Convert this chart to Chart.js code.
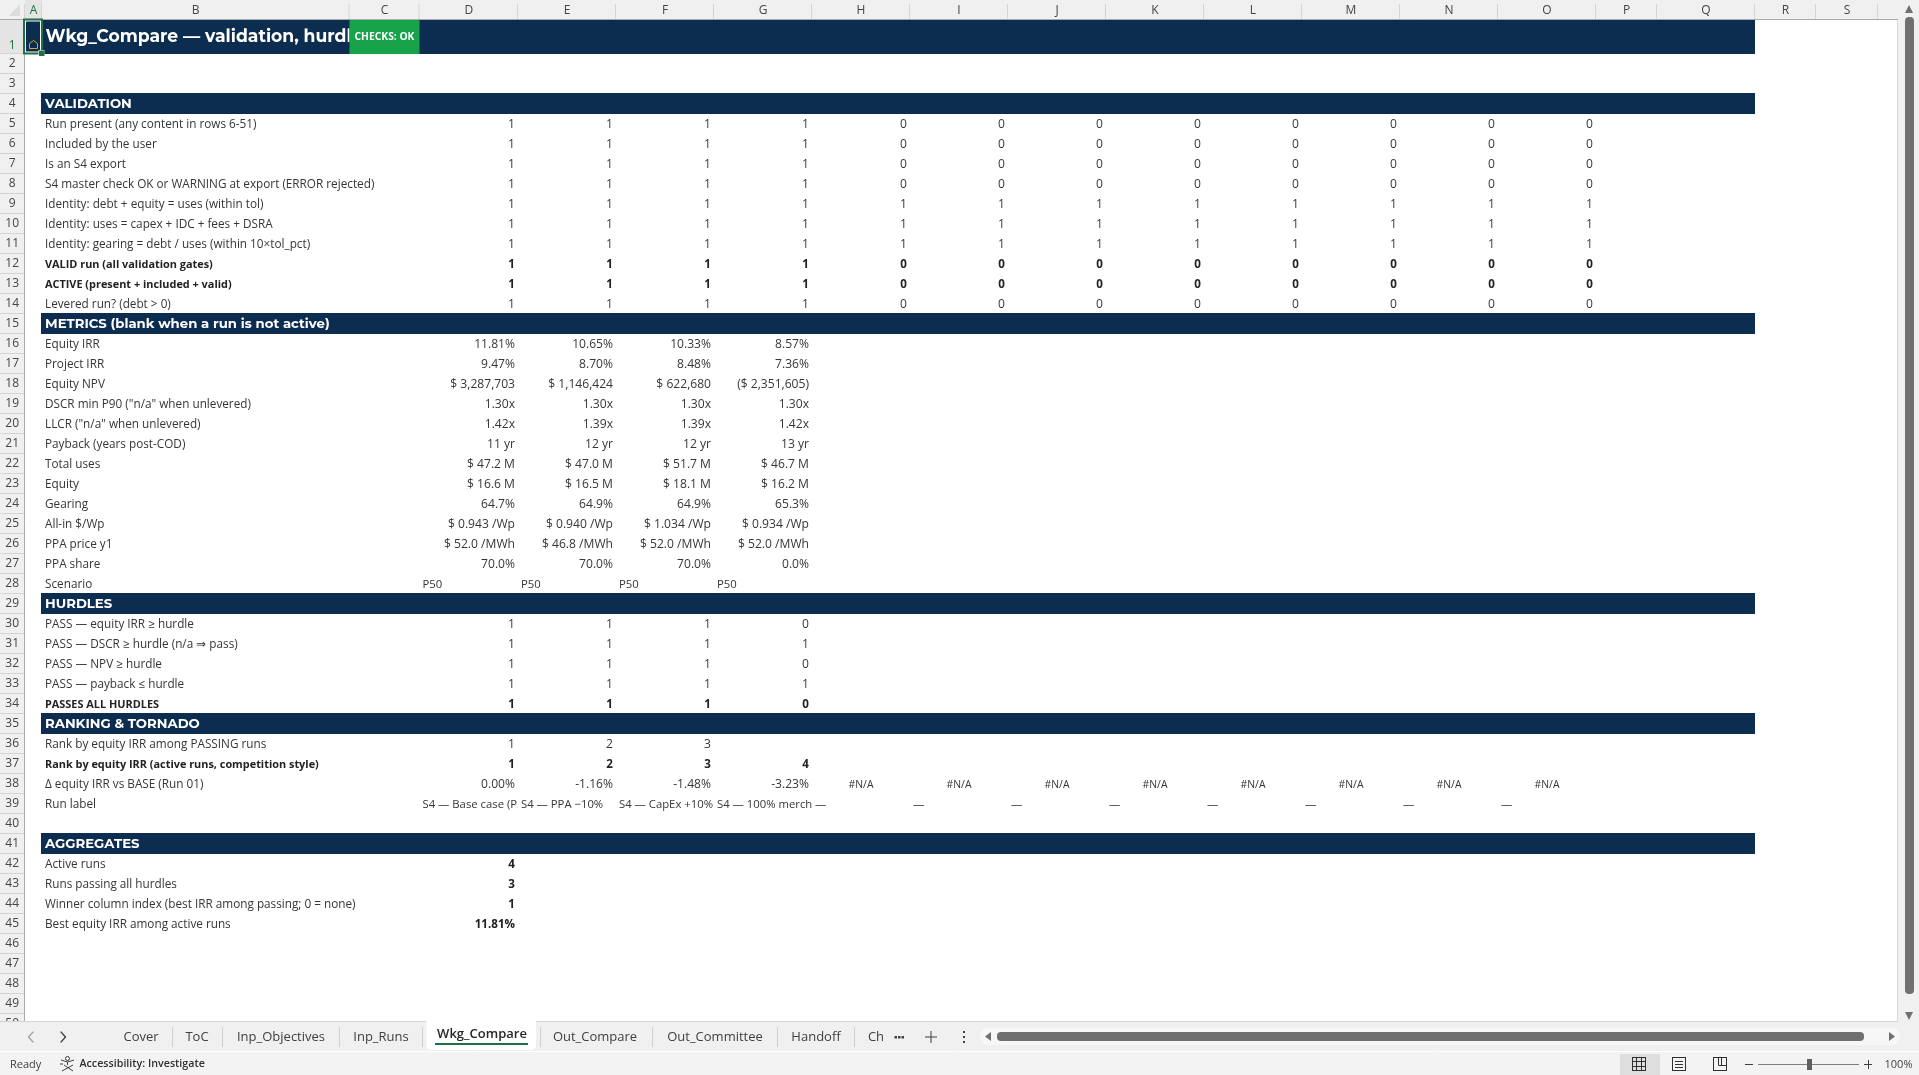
<!DOCTYPE html>
<html>
<head>
<meta charset="utf-8">
<title>Wkg_Compare</title>
<style>
  html, body { margin: 0; padding: 0; background: #fff; overflow: hidden; }
  canvas { display: block; }
</style>
<script src="https://cdn.jsdelivr.net/npm/chart.js@4"></script>
</head>
<body>
<canvas id="sheet" width="1919" height="1075"></canvas>
<script>
// Sheet content
const columnLetters = ['A','B','C','D','E','F','G','H','I','J','K','L','M','N','O','P','Q','R','S'];
const rowNumbers = [1,2,3,4,5,6,7,8,9,10,11,12,13,14,15,16,17,18,19,20,21,22,23,24,25,26,27,28,29,30,31,32,33,34,35,36,37,38,39,40,41,42,43,44,45,46,47,48,49,50];
const tabNames = ['Cover','ToC','Inp_Objectives','Inp_Runs','Wkg_Compare','Out_Compare','Out_Committee','Handoff','Ch'];

const titleText = 'Wkg_Compare — validation, hurdles & ranking';
const checksText = 'CHECKS: OK';
const sectionTitles = { 4: 'VALIDATION', 15: 'METRICS (blank when a run is not active)', 29: 'HURDLES', 35: 'RANKING & TORNADO', 41: 'AGGREGATES' };

const validationLabels = [
    'Run present (any content in rows 6-51)',
    'Included by the user',
    'Is an S4 export',
    'S4 master check OK or WARNING at export (ERROR rejected)',
    'Identity: debt + equity = uses (within tol)',
    'Identity: uses = capex + IDC + fees + DSRA',
    'Identity: gearing = debt / uses (within 10×tol_pct)',
    'VALID run (all validation gates)',
    'ACTIVE (present + included + valid)',
    'Levered run? (debt > 0)'
];
const runPresent = [1,1,1,1,0,0,0,0,0,0,0,0];
const includedByUser = [1,1,1,1,0,0,0,0,0,0,0,0];
const isS4Export = [1,1,1,1,0,0,0,0,0,0,0,0];
const masterCheck = [1,1,1,1,0,0,0,0,0,0,0,0];
const identityFunding = [1,1,1,1,1,1,1,1,1,1,1,1];
const identityUses = [1,1,1,1,1,1,1,1,1,1,1,1];
const identityGearing = [1,1,1,1,1,1,1,1,1,1,1,1];
const validRun = [1,1,1,1,0,0,0,0,0,0,0,0];
const activeRun = [1,1,1,1,0,0,0,0,0,0,0,0];
const leveredRun = [1,1,1,1,0,0,0,0,0,0,0,0];

const metricLabels = [
    'Equity IRR', 'Project IRR', 'Equity NPV', 'DSCR min P90 ("n/a" when unlevered)', 'LLCR ("n/a" when unlevered)',
    'Payback (years post-COD)', 'Total uses', 'Equity', 'Gearing', 'All-in $/Wp', 'PPA price y1', 'PPA share', 'Scenario'
];
const equityIrr = [11.81, 10.65, 10.33, 8.57];
const projectIrr = [9.47, 8.70, 8.48, 7.36];
const equityNpv = [3287703, 1146424, 622680, -2351605];
const dscrMin = [1.30, 1.30, 1.30, 1.30];
const llcr = [1.42, 1.39, 1.39, 1.42];
const paybackYears = [11, 12, 12, 13];
const totalUses = [47.2, 47.0, 51.7, 46.7];
const equityAmount = [16.6, 16.5, 18.1, 16.2];
const gearing = [64.7, 64.9, 64.9, 65.3];
const allInCost = [0.943, 0.940, 1.034, 0.934];
const ppaPrice = [52.0, 46.8, 52.0, 52.0];
const ppaShare = [70.0, 70.0, 70.0, 0.0];
const scenario = ['P50','P50','P50','P50'];

const hurdleLabels = ['PASS — equity IRR ≥ hurdle', 'PASS — DSCR ≥ hurdle (n/a ⇒ pass)', 'PASS — NPV ≥ hurdle', 'PASS — payback ≤ hurdle', 'PASSES ALL HURDLES'];
const passIrr = [1,1,1,0];
const passDscr = [1,1,1,1];
const passNpv = [1,1,1,0];
const passPayback = [1,1,1,1];
const passAll = [1,1,1,0];

const rankingLabels = ['Rank by equity IRR among PASSING runs', 'Rank by equity IRR (active runs, competition style)', 'Δ equity IRR vs BASE (Run 01)', 'Run label'];
const rankPassing = [1,2,3,null];
const rankActive = [1,2,3,4];
const deltaIrr = [0.00, -1.16, -1.48, -3.23, '#N/A','#N/A','#N/A','#N/A','#N/A','#N/A','#N/A','#N/A'];
const runLabels = ['S4 — Base case (P50)','S4 — PPA −10%','S4 — CapEx +10%','S4 — 100% merchant','—','—','—','—','—','—','—','—'];

const aggregateLabels = ['Active runs', 'Runs passing all hurdles', 'Winner column index (best IRR among passing; 0 = none)', 'Best equity IRR among active runs'];
const activeRuns = [4];
const runsPassing = [3];
const winnerColumn = [1];
const bestIrr = [11.81];

// Cell formats, same as the number formats on the sheet
const asInt = v => String(v);
const asPct2 = v => v.toFixed(2) + '%';
const asPct1 = v => v.toFixed(1) + '%';
const asTimes = v => v.toFixed(2) + 'x';
const asYears = v => v + ' yr';
const asMillions = v => '$ ' + v.toFixed(1) + ' M';
const asPerWp = v => '$ ' + v.toFixed(3) + ' /Wp';
const asPerMwh = v => '$ ' + v.toFixed(1) + ' /MWh';
const asUsd = v => {
    const s = '$ ' + Math.abs(v).toLocaleString('en-US');
    return v < 0 ? '(' + s + ')' : s;
};

const sections = [
    { first: 5, labels: validationLabels, rows: [
        [runPresent, asInt], [includedByUser, asInt], [isS4Export, asInt], [masterCheck, asInt], [identityFunding, asInt],
        [identityUses, asInt], [identityGearing, asInt], [validRun, asInt], [activeRun, asInt], [leveredRun, asInt]] },
    { first: 16, labels: metricLabels, rows: [
        [equityIrr, asPct2], [projectIrr, asPct2], [equityNpv, asUsd], [dscrMin, asTimes], [llcr, asTimes], [paybackYears, asYears],
        [totalUses, asMillions], [equityAmount, asMillions], [gearing, asPct1], [allInCost, asPerWp], [ppaPrice, asPerMwh], [ppaShare, asPct1], [scenario, null]] },
    { first: 30, labels: hurdleLabels, rows: [[passIrr, asInt], [passDscr, asInt], [passNpv, asInt], [passPayback, asInt], [passAll, asInt]] },
    { first: 36, labels: rankingLabels, rows: [[rankPassing, asInt], [rankActive, asInt], [deltaIrr, asPct2], [runLabels, null]] },
    { first: 42, labels: aggregateLabels, rows: [[activeRuns, asInt], [runsPassing, asInt], [winnerColumn, asInt], [bestIrr, asPct2]] }
];
const boldLabelRows = [12, 13, 34, 37];
const boldValueRows = [12, 13, 34, 37, 42, 43, 44, 45];
const firstRunColumn = 3; // column D

// Layout of the grid in pixels
const NAVY = '#0c2d50';
const GREEN = '#1e7145';
const CELL_FONT = '"Open Sans"';
const HEAD_FONT = 'Montserrat, Inter';
const columnEdges = [25, 42, 349.5, 419.5, 518, 616, 714, 812, 910, 1008, 1106, 1204, 1302, 1400, 1498, 1596, 1657, 1755, 1816, 1878];
const rowEdges = [20, 54];
rowNumbers.slice(1).forEach(() => rowEdges.push(rowEdges[rowEdges.length - 1] + 20));

// Linear scale that follows the uneven column widths / row heights of the sheet
class SheetScale extends Chart.LinearScale {
    static id = 'sheet';
    static defaults = {};
    getPixelForValue(value) {
        const edges = this.options.edges;
        const i = Math.max(0, Math.min(Math.floor(value), edges.length - 2));
        return edges[i] + (value - i) * (edges[i + 1] - edges[i]);
    }
}
Chart.register(SheetScale);

// One dataset for each sheet row: label point in column B, then the run values
function buildDatasets() {
    const datasets = [];
    sections.forEach(section => {
        section.rows.forEach(([values, format], r) => {
            const rowNo = section.first + r;
            const y = rowNo - 0.5;
            const data = [{ x: 1, y, text: section.labels[r], kind: 'label', align: 'left', bold: boldLabelRows.includes(rowNo) }];
            values.forEach((v, c) => {
                if (v === null) return;
                const col = firstRunColumn + c;
                const bold = boldValueRows.includes(rowNo);
                if (v === '#N/A') data.push({ x: col + 0.5, y, text: v, kind: 'error', align: 'center', bold });
                else if (format) data.push({ x: col + 1, y, text: format(v), kind: 'value', align: 'right', bold });
                else data.push({ x: col, y, text: v, kind: 'string', align: 'left', bold, clip: true });
            });
            datasets.push({ label: section.labels[r], data, pointRadius: 0, showLine: false });
        });
    });
    return datasets;
}

function cellFont(cell) {
    let size = 11.75;
    if (cell.kind === 'label' && cell.bold) size = 10.9;
    if (cell.kind === 'value') size = cell.bold ? 11.6 : 12.1;
    if (cell.kind === 'string') size = 11.3;
    if (cell.kind === 'error') size = 10.4;
    return (cell.bold ? '700 ' : '400 ') + size + 'px ' + CELL_FONT;
}

function text(ctx, str, x, y, font, color, align) {
    ctx.font = font;
    ctx.fillStyle = color;
    ctx.textAlign = align || 'left';
    ctx.textBaseline = 'middle';
    ctx.fillText(str, x, y);
}

function rect(ctx, x, y, w, h, color) {
    ctx.fillStyle = color;
    ctx.fillRect(x, y, w, h);
}

function line(ctx, x1, y1, x2, y2, color, width) {
    ctx.strokeStyle = color;
    ctx.lineWidth = width || 1;
    ctx.beginPath();
    ctx.moveTo(x1, y1);
    ctx.lineTo(x2, y2);
    ctx.stroke();
}

function tri(ctx, pts, color) {
    ctx.fillStyle = color;
    ctx.beginPath();
    pts.forEach((p, i) => i ? ctx.lineTo(p[0], p[1]) : ctx.moveTo(p[0], p[1]));
    ctx.closePath();
    ctx.fill();
}

function roundRect(ctx, x, y, w, h, r, color) {
    ctx.fillStyle = color;
    ctx.beginPath();
    ctx.roundRect(x, y, w, h, r);
    ctx.fill();
}

// Headers, navy bands and the title row sit under the cell text
const gridPlugin = {
    id: 'grid',
    beforeDraw(chart) {
        const ctx = chart.ctx;
        const xs = chart.scales.x, ys = chart.scales.y;
        rect(ctx, 0, 0, 1919, 1075, '#ffffff');

        // column and row headers
        rect(ctx, 0, 0, 1898, 20, '#f0f0f0');
        rect(ctx, 0, 20, 25, 1001, '#f0f0f0');
        rect(ctx, 25, 0, 17, 19, '#e4e4e4');
        rect(ctx, 0, 20, 24, 34, '#e4e4e4');
        tri(ctx, [[20, 4], [20, 16], [9, 16]], '#dcdcdc');
        columnEdges.forEach(x => line(ctx, x - 0.5, 4, x - 0.5, 19, '#d4d4d4'));
        rowEdges.forEach(y => line(ctx, 0, y - 0.5, 24, y - 0.5, '#d4d4d4'));
        line(ctx, 0, 19.5, 1898, 19.5, '#ababab');
        line(ctx, 24.5, 20, 24.5, 1021, '#ababab');

        // navy bands, row 1 starts in column A and the others in column B
        const right = xs.getPixelForValue(17);
        rect(ctx, xs.getPixelForValue(0), ys.getPixelForValue(0), right - xs.getPixelForValue(0), ys.getPixelForValue(1) - ys.getPixelForValue(0), NAVY);
        Object.keys(sectionTitles).forEach(rowNo => {
            const top = ys.getPixelForValue(rowNo - 1) - 1;
            rect(ctx, xs.getPixelForValue(1) - 1, top, right - xs.getPixelForValue(1) + 1, 21, NAVY);
        });

        // title cell is cut by the checks cell next to it
        ctx.save();
        ctx.beginPath();
        ctx.rect(xs.getPixelForValue(1), 20, xs.getPixelForValue(2) - xs.getPixelForValue(1), 34);
        ctx.clip();
        text(ctx, titleText, xs.getPixelForValue(1) + 3.5, ys.getPixelForValue(0.5), '700 17.2px ' + HEAD_FONT, '#ffffff');
        ctx.restore();
        rect(ctx, xs.getPixelForValue(2), 20, xs.getPixelForValue(3) - xs.getPixelForValue(2), 34, '#16a34a');
        text(ctx, checksText, xs.getPixelForValue(2.5), ys.getPixelForValue(0.5), '700 10.3px ' + CELL_FONT, '#ffffff', 'center');

        Object.keys(sectionTitles).forEach(rowNo => {
            text(ctx, sectionTitles[rowNo], xs.getPixelForValue(1) + 3, ys.getPixelForValue(rowNo - 0.5), '700 13.25px ' + HEAD_FONT, '#ffffff');
        });
    }
};

// Cell text goes where the scales put each point
const cellTextPlugin = {
    id: 'cellText',
    afterDatasetsDraw(chart) {
        const ctx = chart.ctx;
        const xs = chart.scales.x;
        chart.data.datasets.forEach((ds, i) => {
            chart.getDatasetMeta(i).data.forEach((pt, j) => {
                const cell = ds.data[j];
                const font = cellFont(cell);
                const color = cell.bold ? '#222222' : '#363636';
                const y = pt.y + 1;
                let x = pt.x;
                if (cell.align === 'left') x += 3;
                if (cell.align === 'right') x -= 3;
                if (cell.clip) {
                    ctx.save();
                    ctx.beginPath();
                    ctx.rect(pt.x, pt.y - 10, xs.getPixelForValue(cell.x + 1) - pt.x, 20);
                    ctx.clip();
                    text(ctx, cell.text, x, y, font, color, cell.align);
                    ctx.restore();
                } else {
                    text(ctx, cell.text, x, y, font, color, cell.align);
                }
            });
        });
    }
};

// Excel window parts around the grid
const chromePlugin = {
    id: 'chrome',
    afterDraw(chart) {
        const ctx = chart.ctx;
        const uiFont = '"Open Sans"';

        // selected cell A1
        ctx.strokeStyle = GREEN;
        ctx.lineWidth = 2;
        ctx.strokeRect(24, 19.5, 18, 34);
        ctx.strokeStyle = '#ffffff';
        ctx.lineWidth = 1;
        ctx.strokeRect(25.5, 21, 15, 31);
        rect(ctx, 38.5, 50, 6, 6, '#ffffff');
        rect(ctx, 39, 50.5, 5.5, 5.5, GREEN);
        ctx.strokeStyle = '#d8a520';
        ctx.lineWidth = 1;
        ctx.beginPath();
        ctx.moveTo(29.5, 48.5);
        ctx.lineTo(29.5, 43.5);
        ctx.lineTo(33.5, 40.5);
        ctx.lineTo(37.5, 43.5);
        ctx.lineTo(37.5, 48.5);
        ctx.closePath();
        ctx.stroke();

        // vertical scrollbar
        rect(ctx, 1898, 0, 21, 1052, '#f0f0f0');
        line(ctx, 1897.5, 20, 1897.5, 1021, '#d8d8d8');
        roundRect(ctx, 1905, 17, 9, 977, 4, '#707070');
        tri(ctx, [[1905, 13], [1913, 13], [1909, 5]], '#707070');
        tri(ctx, [[1905, 1012], [1913, 1012], [1909, 1020]], '#707070');

        // tab bar
        rect(ctx, 0, 1021, 1898, 31, '#f0f0f0');
        line(ctx, 0, 1021.5, 1898, 1021.5, '#d4d4d4');
        [172.5, 222.5, 339.5, 422.5, 540.5, 652.5, 777.5, 854.5].forEach(x => line(ctx, x, 1027, x, 1047, '#cfcfcf'));
        ctx.fillStyle = '#ffffff';
        ctx.beginPath();
        ctx.roundRect(426.5, 1021, 109.5, 29, [0, 0, 5, 5]);
        ctx.fill();
        rect(ctx, 435, 1043, 93, 2, GREEN);
        const tabCenters = [141, 197, 281, 381, 482, 595, 715, 816, 876];
        tabNames.forEach((name, i) => {
            const active = name === 'Wkg_Compare';
            text(ctx, name, tabCenters[i], active ? 1034 : 1037, (active ? '600' : '400') + ' 13px ' + uiFont, active ? '#262626' : '#404040', 'center');
        });
        ctx.lineCap = 'round';
        line(ctx, 33, 1032, 28.5, 1037, '#a0a0a0', 1.2);
        line(ctx, 28.5, 1037, 33, 1042, '#a0a0a0', 1.2);
        line(ctx, 61, 1032, 65.5, 1037, '#404040', 1.2);
        line(ctx, 65.5, 1037, 61, 1042, '#404040', 1.2);
        ctx.lineCap = 'butt';
        [895.5, 899, 902.5].forEach(x => rect(ctx, x - 1, 1036, 2.5, 2.5, '#404040'));
        line(ctx, 925, 1037, 937, 1037, '#404040');
        line(ctx, 931, 1031, 931, 1043, '#404040');
        [1032, 1037, 1042].forEach(y => rect(ctx, 963, y - 1, 2, 2, '#404040'));

        // horizontal scrollbar
        roundRect(ctx, 980, 1028, 920, 17, 8, '#f7f7f7');
        roundRect(ctx, 997, 1032, 867, 9, 4, '#707070');
        tri(ctx, [[991, 1032], [991, 1041], [985, 1036.5]], '#707070');
        tri(ctx, [[1889, 1032], [1889, 1041], [1895, 1036.5]], '#707070');

        // status bar
        rect(ctx, 0, 1052, 1919, 23, '#f3f3f3');
        line(ctx, 0, 1051.5, 1919, 1051.5, '#ffffff');
        text(ctx, 'Ready', 10, 1065, '400 11px ' + uiFont, '#404040');
        text(ctx, 'Accessibility: Investigate', 79.5, 1064, '600 10.7px ' + uiFont, '#303030');
        // accessibility figure with its sparkles
        ctx.strokeStyle = '#404040';
        ctx.lineWidth = 1;
        ctx.beginPath();
        ctx.arc(67.5, 1058.5, 2, 0, Math.PI * 2);
        ctx.moveTo(61, 1060);
        ctx.lineTo(67.5, 1062);
        ctx.lineTo(74, 1060);
        ctx.moveTo(67.5, 1062);
        ctx.lineTo(67.5, 1065);
        ctx.moveTo(62, 1071);
        ctx.lineTo(73, 1065);
        ctx.moveTo(64, 1065);
        ctx.lineTo(73, 1071);
        ctx.moveTo(60, 1064);
        ctx.lineTo(63, 1064);
        ctx.stroke();

        rect(ctx, 1620, 1054, 40, 21, '#dedede');
        // normal view
        ctx.strokeStyle = '#303030';
        ctx.strokeRect(1632.5, 1057.5, 13, 13);
        [1636.5, 1641.5].forEach(x => line(ctx, x, 1057, x, 1071, '#303030'));
        [1061.5, 1066.5].forEach(y => line(ctx, 1632, y, 1646, y, '#303030'));
        // page layout
        ctx.strokeRect(1672.5, 1057.5, 13, 13);
        [1061.5, 1064.5, 1067.5].forEach(y => line(ctx, 1675, y, 1683, y, '#303030'));
        // page break
        ctx.strokeRect(1713.5, 1057.5, 13, 13);
        line(ctx, 1718.5, 1058, 1718.5, 1065, '#303030');
        line(ctx, 1718.5, 1065.5, 1726, 1065.5, '#303030');
        line(ctx, 1721.5, 1058, 1721.5, 1065, '#303030');

        // zoom control
        line(ctx, 1745, 1064.5, 1753, 1064.5, '#404040');
        line(ctx, 1758, 1064.5, 1859, 1064.5, '#808080');
        rect(ctx, 1807, 1059, 5, 11, '#606060');
        line(ctx, 1864, 1064.5, 1872, 1064.5, '#404040');
        line(ctx, 1868.5, 1060, 1868.5, 1069, '#404040');
        text(ctx, '100%', 1898.5, 1065, '400 11px ' + uiFont, '#404040', 'center');
    }
};

Chart.defaults.font.family = CELL_FONT;

function initSheet() {
    new Chart(document.getElementById('sheet').getContext('2d'), {
        type: 'scatter',
        data: { datasets: buildDatasets() },
        options: {
            responsive: false,
            animation: false,
            events: [],
            layout: { padding: 0 },
            plugins: { legend: { display: false }, tooltip: { enabled: false } },
            scales: {
                x: {
                    type: 'sheet',
                    position: 'top',
                    edges: columnEdges,
                    min: 0,
                    max: columnLetters.length,
                    grid: { display: false, drawTicks: false },
                    border: { display: false },
                    afterBuildTicks: s => { s.ticks = columnLetters.map((_, i) => ({ value: i + 0.5 })); },
                    afterFit: s => { s.height = 20; },
                    ticks: {
                        autoSkip: false,
                        maxRotation: 0,
                        padding: 2,
                        color: c => c.index === 0 ? GREEN : '#444444',
                        font: { family: CELL_FONT, size: 12 },
                        callback: (v, i) => columnLetters[i]
                    }
                },
                y: {
                    type: 'sheet',
                    position: 'left',
                    edges: rowEdges,
                    min: 0,
                    max: rowNumbers.length,
                    grid: { display: false, drawTicks: false },
                    border: { display: false },
                    // row 1 is tall and its number sits low in the cell
                    afterBuildTicks: s => { s.ticks = rowNumbers.map((_, i) => ({ value: i === 0 ? 0.75 : i + 0.5 })); },
                    afterFit: s => { s.width = 24; },
                    ticks: {
                        autoSkip: false,
                        crossAlign: 'center',
                        padding: 5,
                        color: c => c.index === 0 ? GREEN : '#444444',
                        font: { family: CELL_FONT, size: 12 },
                        callback: (v, i) => rowNumbers[i]
                    }
                }
            }
        },
        plugins: [gridPlugin, cellTextPlugin, chromePlugin]
    });
}

document.addEventListener('DOMContentLoaded', initSheet);
</script>
</body>
</html>
